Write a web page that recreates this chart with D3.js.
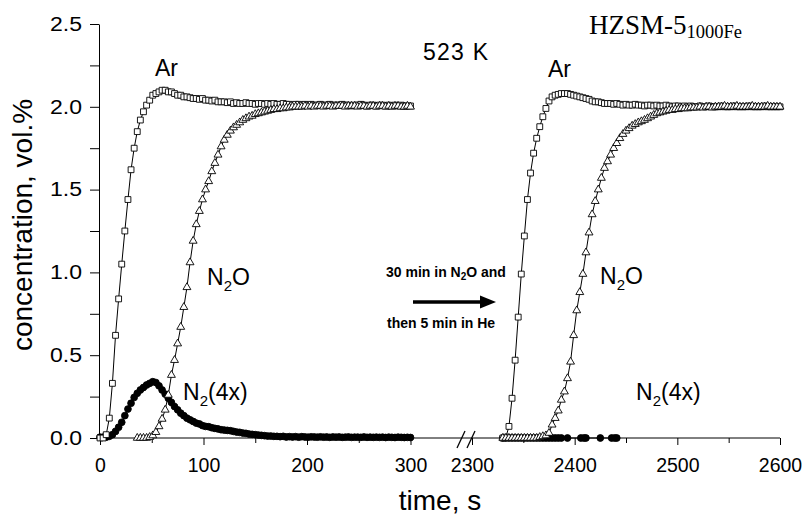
<!DOCTYPE html>
<html lang="en">
<head>
<meta charset="UTF-8">
<title>HZSM-5 1000Fe transient response</title>
<script src="https://d3js.org/d3.v7.min.js"></script>
<style>
  body { margin: 0; background: #fff; }
  svg { display: block; font-family: "Liberation Sans", Arial, sans-serif; }
  .tick text { font-size: 19.5px; font-family: "Liberation Sans", Arial, sans-serif; fill: #000; }
  .tick line, .domain { stroke: #000; stroke-width: 1; }
  .lbl { font-size: 23px; fill: #000; }
  .note { font-size: 14px; font-weight: bold; fill: #000; }
</style>
</head>
<body>
<svg width="806" height="516"></svg>
<script>
// sampling: 3 s steps
const step = 3;

// left segment, 0..300 s
const arLeftStart = 0;
const arLeft = [
  0, 0, 0.02, 0.12, 0.33, 0.62, 0.84, 1.05, 1.25, 1.44,
  1.62, 1.75, 1.85, 1.92, 1.97, 2.01, 2.04, 2.07, 2.08, 2.09,
  2.10, 2.10, 2.09, 2.09, 2.08, 2.07, 2.07, 2.06, 2.06, 2.055,
  2.05, 2.05, 2.045, 2.05, 2.04, 2.04, 2.035, 2.04, 2.03, 2.03,
  2.03, 2.025, 2.03, 2.02, 2.025, 2.02, 2.02, 2.025, 2.02, 2.02,
  2.015, 2.02, 2.02, 2.015, 2.02, 2.015, 2.02, 2.015, 2.015, 2.02,
  2.015, 2.015, 2.01, 2.015, 2.015, 2.01, 2.015, 2.01, 2.015, 2.01,
  2.01, 2.015, 2.01, 2.01, 2.015, 2.01, 2.01, 2.01, 2.015, 2.01,
  2.01, 2.005, 2.01, 2.01, 2.015, 2.01, 2.005, 2.01, 2.01, 2.005,
  2.01, 2.01, 2.005, 2.01, 2.005, 2.01, 2.005, 2.01, 2.005, 2.005,
  2.005
];

const n2oLeftStart = 36;
const n2oLeft = [
  0, 0, 0, 0, 0.005, 0.015, 0.035, 0.07, 0.115, 0.17,
  0.26, 0.38, 0.47, 0.57, 0.67, 0.79, 0.91, 1.06, 1.19, 1.29,
  1.37, 1.44, 1.50, 1.55, 1.61, 1.66, 1.71, 1.76, 1.80, 1.83,
  1.855, 1.875, 1.89, 1.905, 1.92, 1.93, 1.94, 1.945, 1.955, 1.96,
  1.965, 1.97, 1.975, 1.98, 1.985, 1.985, 1.99, 1.99, 1.995, 1.995,
  2.0, 2.0, 2.0, 2.0, 2.005, 2.0, 2.005, 2.0, 2.005, 2.005,
  2.0, 2.005, 2.005, 2.0, 2.005, 2.005, 2.005, 2.0, 2.005, 2.005,
  2.005, 2.0, 2.005, 2.005, 2.0, 2.005, 2.005, 2.0, 2.005, 2.005,
  2.0, 2.005, 2.0, 2.005, 2.005, 2.0, 2.0, 2.005, 2.0
];

const n2LeftStart = 0;
const n2Left = [
  0.005, 0.005, 0.005, 0.01, 0.02, 0.04, 0.065, 0.095, 0.135, 0.175,
  0.21, 0.245, 0.27, 0.29, 0.305, 0.32, 0.33, 0.34, 0.335, 0.315,
  0.29, 0.265, 0.24, 0.215, 0.19, 0.17, 0.15, 0.135, 0.12, 0.11,
  0.10, 0.09, 0.085, 0.075, 0.07, 0.068, 0.062, 0.058, 0.055, 0.05,
  0.048, 0.046, 0.044, 0.04, 0.036, 0.034, 0.03, 0.028, 0.024, 0.022,
  0.02, 0.018, 0.016, 0.014, 0.012, 0.012, 0.01, 0.01, 0.008, 0.01,
  0.006, 0.008, 0.006, 0.008, 0.005, 0.008, 0.006, 0.005, 0.007, 0.006,
  0.005, 0.007, 0.005, 0.006, 0.004, 0.006, 0.005, 0.006, 0.004, 0.005,
  0.006, 0.004, 0.005, 0.005, 0.004, 0.006, 0.004, 0.005, 0.004, 0.005,
  0.004, 0.005, 0.003, 0.005, 0.004, 0.003, 0.005, 0.004, 0.003, 0.004,
  0.003
];

// right segment, 2300..2600 s (after 30 min N2O + 5 min He)
const arRightStart = 2330;
const arRight = [
  0, 0.005, 0.07, 0.24, 0.47, 0.73, 0.99, 1.22, 1.44, 1.60,
  1.72, 1.81, 1.88, 1.94, 1.99, 2.035, 2.06, 2.07, 2.075, 2.08,
  2.08, 2.08, 2.075, 2.07, 2.065, 2.06, 2.055, 2.05, 2.045, 2.035,
  2.03, 2.03, 2.025, 2.02, 2.02, 2.02, 2.015, 2.02, 2.015, 2.01,
  2.015, 2.01, 2.01, 2.015, 2.01, 2.01, 2.005, 2.01, 2.01, 2.005,
  2.01, 2.005, 2.005, 2.01, 2.005, 2.0, 2.005, 2.005, 2.0, 2.005,
  2.0, 2.005, 2.0, 2.0, 2.005, 2.0, 2.0, 2.005, 2.0, 2.0,
  2.0, 2.005, 2.0, 2.0, 2.0, 2.005, 2.0, 2.0, 2.0, 2.0,
  2.005, 2.0, 2.0, 2.0, 2.0, 2.005, 2.0, 2.0, 2.0, 2.0,
  2.0
];

const n2oRightStart = 2330;
const n2oRight = [
  0, 0, 0, 0, 0, 0, 0, 0, 0, 0,
  0, 0, 0.005, 0.01, 0.015, 0.03, 0.08, 0.12, 0.165, 0.23,
  0.28, 0.36, 0.46, 0.62, 0.77, 0.88, 0.99, 1.12, 1.24, 1.35,
  1.43, 1.50, 1.57, 1.63, 1.67, 1.71, 1.75, 1.78, 1.81, 1.835,
  1.855, 1.87, 1.885, 1.895, 1.905, 1.912, 1.92, 1.93, 1.94, 1.95,
  1.96, 1.965, 1.97, 1.975, 1.98, 1.98, 1.985, 1.985, 1.99, 1.99,
  1.99, 1.995, 1.995, 1.995, 2.0, 1.995, 2.0, 2.0, 1.995, 2.0,
  2.0, 2.0, 2.005, 2.0, 2.0, 2.0, 2.005, 2.0, 2.0, 2.0,
  2.0, 2.005, 2.0, 2.0, 2.0, 2.0, 2.005, 2.0, 2.0, 2.0,
  2.0
];

const n2RightTime = [
  2330, 2333, 2336, 2339, 2342, 2345, 2348, 2351, 2354, 2357,
  2360, 2363, 2366, 2369, 2372, 2375, 2378, 2381, 2384, 2387,
  2393, 2406, 2409, 2411, 2425, 2436, 2439, 2441
];
const n2Right = [
  0, 0, 0, 0, 0, 0, 0, 0, 0, 0,
  0, 0, 0, 0, 0, 0, 0, 0, 0, 0,
  0, 0, 0, 0, 0, 0, 0, 0
];

const yTicks = [0, 0.5, 1.0, 1.5, 2.0, 2.5];
const yMinor = [0.25, 0.75, 1.25, 1.75, 2.25];
const xTicksLeft = [0, 100, 200, 300];
const xMinorLeft = [50, 150, 250];
const xTicksRight = [2300, 2400, 2500, 2600];
const xMinorRight = [2350, 2450, 2550];

const svg = d3.select("svg");

const y = d3.scaleLinear().domain([0, 2.5]).range([438, 24]);
const xL = d3.scaleLinear().domain([0, 300]).range([100, 410.5]);
const xR = d3.scaleLinear().domain([2300, 2600]).range([472, 780]);

const grid = (start, vals) => vals.map((v, i) => ({ t: start + i * step, v }));

// axes
const yAxis = svg.append("g").attr("transform", "translate(99,0)")
  .call(d3.axisLeft(y).tickValues(yTicks).tickFormat(d3.format(".1f")).tickSize(9).tickPadding(8).tickSizeOuter(0));
yAxis.selectAll(".tick text").attr("textLength", 32).attr("lengthAdjust", "spacingAndGlyphs");
svg.append("g").attr("transform", "translate(99,0)")
  .call(d3.axisLeft(y).tickValues(yMinor).tickFormat("").tickSize(9).tickSizeOuter(0))
  .select(".domain").remove();

function bottomAxis(x, major, minor) {
  const g = svg.append("g").attr("transform", "translate(0,438)");
  g.call(d3.axisBottom(x).tickValues(major).tickFormat(d3.format("d")).tickSize(7).tickPadding(13));
  g.select(".domain").remove();
  const m = svg.append("g").attr("transform", "translate(0,438)");
  m.call(d3.axisBottom(x).tickValues(minor).tickFormat("").tickSize(5));
  m.select(".domain").remove();
}
bottomAxis(xL, xTicksLeft, xMinorLeft);
bottomAxis(xR, xTicksRight, xMinorRight);

svg.append("line").attr("x1", 99).attr("x2", xR(2600)).attr("y1", 438).attr("y2", 438)
  .attr("stroke", "#000");
// axis break marks
[[457, 465], [467, 475]].forEach(([a, b]) => {
  svg.append("line").attr("x1", a).attr("y1", 448).attr("x2", b).attr("y2", 431)
    .attr("stroke", "#000").attr("stroke-width", 1.3);
});

// series
const shapes = {
  square: d3.symbol().type(d3.symbolSquare).size(34),
  triangle: d3.symbol().type(d3.symbolTriangle).size(27),
  circle: d3.symbol().type(d3.symbolCircle).size(36)
};

function drawSeries(x, pts, shape) {
  const line = d3.line().x(d => x(d.t)).y(d => y(d.v));
  svg.append("path").datum(pts).attr("d", line)
    .attr("fill", "none").attr("stroke", "#000").attr("stroke-width", 1);
  svg.append("g").selectAll("path").data(pts).join("path")
    .attr("d", shapes[shape])
    .attr("transform", d => `translate(${x(d.t)},${y(d.v)})`)
    .attr("fill", shape === "circle" ? "#000" : "#fff")
    .attr("stroke", "#000").attr("stroke-width", 0.9);
}

drawSeries(xL, grid(n2LeftStart, n2Left), "circle");
drawSeries(xL, grid(arLeftStart, arLeft), "square");
drawSeries(xL, grid(n2oLeftStart, n2oLeft), "triangle");

drawSeries(xR, n2RightTime.map((t, i) => ({ t, v: n2Right[i] })), "circle");
drawSeries(xR, grid(arRightStart, arRight), "square");
drawSeries(xR, grid(n2oRightStart, n2oRight), "triangle");

// labels
function label(x0, y0, parts) {
  const t = svg.append("text").attr("class", "lbl").attr("x", x0).attr("y", y0);
  parts.forEach(p => {
    const s = t.append("tspan").text(p.s);
    if (p.sub) s.attr("font-size", "15px").attr("dy", 6);
    if (p.back) s.attr("dy", -6);
  });
  return t;
}

label(155, 76, [{ s: "Ar" }]);
label(548, 77, [{ s: "Ar" }]);
label(423, 60, [{ s: "523 K" }]).attr("textLength", 65);
label(207, 285, [{ s: "N" }, { s: "2", sub: true }, { s: "O", back: true }]);
label(600, 284, [{ s: "N" }, { s: "2", sub: true }, { s: "O", back: true }]);
label(183, 400, [{ s: "N" }, { s: "2", sub: true }, { s: "(4x)", back: true }]);
label(636, 400, [{ s: "N" }, { s: "2", sub: true }, { s: "(4x)", back: true }]);

const title = svg.append("text").attr("x", 589).attr("y", 34)
  .attr("font-family", "'Liberation Serif', 'Times New Roman', serif").attr("font-size", "27px");
title.append("tspan").text("HZSM-5");
title.append("tspan").text("1000Fe").attr("font-size", "18.5px").attr("dy", 4);

const n1 = svg.append("text").attr("class", "note").attr("x", 386).attr("y", 277);
n1.append("tspan").text("30 min in N");
n1.append("tspan").text("2").attr("font-size", "10px").attr("dy", 3);
n1.append("tspan").text("O and").attr("dy", -3);
svg.append("text").attr("class", "note").attr("x", 387).attr("y", 328).text("then 5 min in He");

// arrow
svg.append("line").attr("x1", 413).attr("x2", 482).attr("y1", 302).attr("y2", 302)
  .attr("stroke", "#000").attr("stroke-width", 3.5);
svg.append("path").attr("d", "M480,295.5 L496,302 L480,308.5 Z").attr("fill", "#000");

// axis titles
svg.append("text").attr("x", 440).attr("y", 510).attr("text-anchor", "middle")
  .attr("font-size", "28px").text("time, s");
svg.append("text").attr("transform", "translate(32,225) rotate(-90)").attr("text-anchor", "middle")
  .attr("font-size", "28px").text("concentration, vol.%");
</script>
</body>
</html>
